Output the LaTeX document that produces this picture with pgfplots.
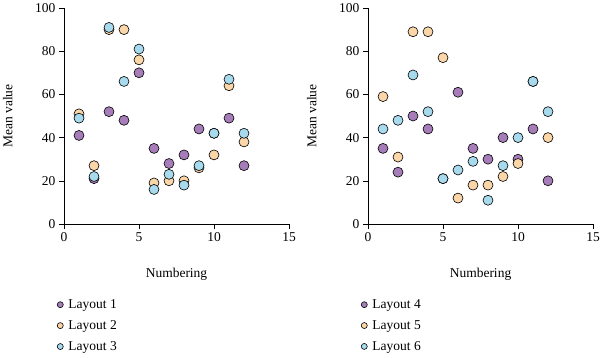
\documentclass[border=0pt]{standalone}
\usepackage{pgfplots}
\pgfplotsset{compat=1.18}
\usepackage{fontspec}
\setmainfont{Liberation Serif}
\definecolor{cpur}{RGB}{166,125,184}
\definecolor{cora}{RGB}{250,214,168}
\definecolor{cblu}{RGB}{168,218,238}
\pgfplotsset{
  myax/.style={
    scale only axis, width=225pt, height=216pt,
    xmin=0, xmax=15, ymin=0, ymax=100,
    axis x line*=bottom, axis y line*=left,
    axis line style={line width=0.6pt},
    xtick={0,5,10,15}, ytick={0,20,...,100},
    tick align=outside, major tick length=5pt,
    tick style={line width=0.6pt, black},
    every tick label/.append style={font=\fontsize{13.5}{15}\selectfont},
    /pgf/number format/assume math mode=true,
    xlabel={Numbering}, ylabel={Mean value},
    label style={font=\fontsize{13.5}{15}\selectfont},
    xlabel style={at={(axis description cs:0.5,-0.235)}, anchor=center},
    ylabel style={at={(axis description cs:-0.25,0.5)}, anchor=center},
    clip=false,
    legend style={at={(axis description cs:-0.045,-0.33)}, anchor=north west, draw=none, fill=none,
      font=\fontsize{13.5}{15}\selectfont, row sep=6.5pt, cells={anchor=west}},
    legend image code/.code={\path (-1pt,0pt) (8pt,0pt); \draw[#1, mark size=3pt, line width=0.5pt] plot coordinates {(2pt,0pt)};},
  },
  pts/.style={only marks, mark=*, mark size=5pt, mark options={draw=black, line width=0.6pt, fill=#1}},
}
\begin{document}
\begin{tikzpicture}[x=1pt,y=1pt]
\path[use as bounding box] (0,0) rectangle (600,357);
\begin{axis}[myax, at={(64pt,133pt)}, anchor=south west]
\addplot[pts=cpur] coordinates {(1,41)(2,21)(3,52)(4,48)(5,70)(6,35)(7,28)(8,32)(9,44)(10,42)(11,49)(12,27)};
\addlegendentry{Layout 1}
\addplot[pts=cora] coordinates {(1,51)(2,27)(3,90)(4,90)(5,76)(6,19)(7,20)(8,20)(9,26)(10,32)(11,64)(12,38)};
\addlegendentry{Layout 2}
\addplot[pts=cblu] coordinates {(1,49)(2,22)(3,91)(4,66)(5,81)(6,16)(7,23)(8,18)(9,27)(10,42)(11,67)(12,42)};
\addlegendentry{Layout 3}
\end{axis}
\begin{axis}[myax, at={(368pt,133pt)}, anchor=south west]
\addplot[pts=cpur] coordinates {(1,35)(2,24)(3,50)(4,44)(5,21)(6,61)(7,35)(8,30)(9,40)(10,30)(11,44)(12,20)};
\addlegendentry{Layout 4}
\addplot[pts=cora] coordinates {(1,59)(2,31)(3,89)(4,89)(5,77)(6,12)(7,18)(8,18)(9,22)(10,28)(11,66)(12,40)};
\addlegendentry{Layout 5}
\addplot[pts=cblu] coordinates {(1,44)(2,48)(3,69)(4,52)(5,21)(6,25)(7,29)(8,11)(9,27)(10,40)(11,66)(12,52)};
\addlegendentry{Layout 6}
\end{axis}
\end{tikzpicture}
\end{document}
